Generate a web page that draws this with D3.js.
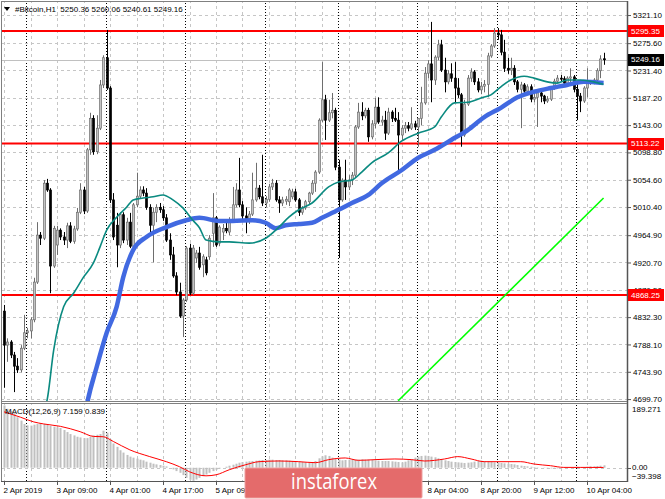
<!DOCTYPE html>
<html><head><meta charset="utf-8">
<script src="https://cdn.jsdelivr.net/npm/d3@7"></script>
<style>
body{margin:0;background:#fff;}
svg{display:block;}
text{font-family:"Liberation Sans",Arial,sans-serif;font-size:8px;fill:#000;}
</style>
</head><body>
<svg id="c" width="665" height="499"></svg>
<script>
// ---------- DATA ----------
const opens = [4842,4787,4792,4771,4753,4747,4782,4807,4810,4828,4889,4965,4960,5049,5038,4915,4949,4973,4962,4957,
4980,4955,4975,5002,5038,5004,5103,5154,5100,5138,5208,5252,5203,5022,4981,4949,4998,4957,4986,4947,
5014,5028,5038,5033,5010,4981,5002,5010,5006,4993,4957,4933,4899,4873,4834,4860,4944,4871,4928,4936,
4917,4925,4930,4968,4993,4952,4970,4976,4970,4989,5014,5038,5014,4996,4989,4999,5022,5041,5027,5017,
5023,5043,5049,5022,5017,5020,5019,5027,5035,5022,5002,5009,5019,5033,5049,5067,5151,5184,5151,5163,
5167,5075,5022,5054,5043,5054,5062,5140,5164,5158,5167,5124,5145,5172,5148,5151,5130,5164,5154,5151,
5127,5138,5142,5138,5145,5140,5154,5179,5227,5242,5216,5253,5273,5232,5213,5226,5219,5203,5192,5127,
5177,5219,5229,5213,5200,5206,5209,5255,5271,5292,5289,5261,5235,5232,5235,5213,5201,5208,5198,5205,
5185,5188,5195,5190,5182,5185,5203,5214,5219,5218,5211,5219,5221,5201,5190,5182,5203,5211,5213,5216,
5231,5250.36];
const highs = [4852,4798,4795,4776,4766,4787,4836,4815,4832,4896,4986,4970,5054,5056,5041,4980,4980,4976,4970,4985,
4986,4980,5009,5049,5043,5106,5163,5159,5159,5216,5256,5297,5206,5033,5001,5002,5002,4993,5001,5017,
5066,5044,5044,5041,5015,5009,5015,5017,5012,4999,4968,4946,4905,4888,4863,4947,4951,4949,4941,4946,
4934,4930,4965,5033,4996,4981,4983,4986,4994,5043,5049,5090,5020,5010,5004,5066,5082,5046,5095,5028,
5048,5056,5054,5028,5027,5028,5041,5040,5040,5025,5012,5022,5035,5054,5070,5154,5245,5192,5184,5195,
5171,5087,5057,5087,5062,5067,5143,5179,5180,5171,5171,5151,5187,5188,5158,5166,5171,5167,5171,5164,
5143,5148,5148,5172,5150,5150,5205,5237,5248,5310,5256,5281,5281,5252,5232,5243,5245,5219,5195,5184,
5224,5235,5232,5219,5213,5216,5260,5274,5300,5300,5297,5281,5252,5252,5240,5216,5213,5211,5209,5209,
5195,5200,5203,5192,5190,5206,5218,5224,5224,5222,5222,5235,5224,5209,5195,5206,5235,5216,5219,5235,
5256,5260.06];
const lows = [4718,4760,4766,4711,4742,4743,4779,4798,4798,4824,4886,4949,4957,5035,4871,4912,4933,4957,4949,4944,
4952,4951,4972,4999,4999,5001,5095,5095,5096,5135,5203,5200,5017,4957,4913,4944,4952,4949,4944,4944,
5010,5025,5028,5006,4968,4921,4986,5001,4988,4954,4925,4896,4868,4831,4800,4857,4868,4868,4920,4909,
4897,4900,4925,4946,4946,4947,4957,4968,4965,4986,5010,5010,4991,4968,4983,4996,5019,5023,5012,5010,
5019,5038,5019,5001,5012,5014,5012,5023,5019,4996,4998,5006,5014,5030,5035,5064,5148,5119,5148,5154,
5070,4928,5019,5022,5038,5046,5059,5137,5151,5154,5116,5120,5138,5145,5142,5119,5127,5148,5148,5066,
5119,5130,5133,5135,5135,5108,5143,5176,5219,5180,5208,5248,5229,5196,5209,5213,5179,5187,5108,5124,
5174,5213,5208,5196,5193,5196,5188,5252,5268,5281,5256,5229,5226,5224,5208,5196,5138,5195,5193,5180,
5180,5140,5180,5177,5179,5182,5200,5211,5213,5208,5209,5209,5196,5151,5164,5179,5188,5208,5209,5213,
5219,5240.61];
const closes = [4787,4792,4771,4753,4747,4782,4807,4810,4828,4889,4965,4960,5049,5038,4915,4976,4973,4962,4957,4980,
4955,4975,5002,5038,5004,5103,5154,5100,5138,5208,5252,5203,5022,4962,4949,4998,4957,4986,4947,5014,
5028,5038,5033,5010,4981,5002,5010,5006,4993,4957,4933,4899,4873,4834,4860,4944,4871,4944,4936,4913,
4930,4904,4960,4993,4949,4978,4976,4972,4989,5014,5038,5014,4996,4989,4999,5022,5041,5027,5017,5023,
5043,5049,5022,5017,5022,5023,5038,5035,5022,5002,5009,5019,5033,5049,5067,5151,5184,5151,5163,5167,
5075,5022,5054,5043,5054,5062,5140,5164,5158,5167,5124,5145,5172,5148,5151,5130,5164,5154,5151,5127,
5138,5142,5138,5145,5140,5154,5179,5227,5242,5216,5253,5273,5232,5213,5226,5219,5203,5192,5127,5177,
5219,5229,5213,5200,5206,5209,5255,5271,5292,5289,5261,5235,5232,5235,5213,5201,5208,5198,5205,5185,
5188,5195,5190,5182,5185,5203,5214,5219,5218,5211,5219,5221,5201,5190,5182,5203,5211,5213,5216,5231,
5250,5249.16];

// moving averages: [bar index, price]
const maFast = [[12,4682],[13,4698],[15,4779],[18,4849],[21,4871],[24,4897],[27,4920],[29,4946],[31,4973],[34,4994],
[37,5010],[39,5022],[42,5025],[45,5027],[48,5030],[51,5022],[54,5009],[57,4989],[59,4977],[61,4957],[65,4954],
[68,4954],[74,4952],[79,4960],[83,4978],[86,4994],[89,5006],[93,5017],[98,5043],[101,5051],[105,5054],[108,5067],
[111,5082],[116,5098],[120,5117],[125,5130],[130,5140],[132,5156],[136,5179],[140,5180],[144,5187],[147,5192],
[150,5205],[153,5216],[157,5222],[160,5219],[164,5213],[167,5211],[170,5216],[174,5216],[178,5213],[181,5209]];
const maSlow = [[24,4660],[25,4690],[28,4752],[31,4807],[34,4849],[36,4897],[39,4941],[43,4962],[49,4978],[55,4989],
[59,4993],[65,4988],[69,4988],[75,4989],[79,4985],[82,4976],[85,4981],[89,4983],[93,4985],[96,4993],[101,5006],
[105,5017],[110,5030],[114,5049],[120,5070],[125,5090],[130,5103],[135,5119],[140,5135],[145,5156],[150,5171],
[155,5188],[160,5197],[165,5203],[170,5208],[175,5213],[181,5211]];
const trendLine = [[119,4697],[181,5025]];
const levels = [5295.35, 5113.22, 4868.25];
const lastPrice = 5249.16;
const priceTicks = [5321.10,5275.60,5231.40,5187.20,5143.00,5098.80,5054.60,5010.40,4964.90,4920.70,4876.50,4832.30,4788.10,4743.90,4699.70];

const macdMain = [185,175,168,162,150,140,130,126,125,128,130,131,130,128,124,122,120,118,112,106,
100,96,92,90,88,88,92,96,98,100,110,104,85,72,62,52,45,38,33,30,
27,24,22,18,15,12,10,8,6,4,0,-5,-10,-15,-22,-30,-36,-39,-35,-30,
-25,-20,-15,-10,-6,-3,0,3,6,9,12,15,17,18,19,20,21,22,23,23,
24,24,23,23,22,22,21,20,19,18,17,16,15,16,20,28,34,37,35,30,
26,24,22,23,24,25,24,24,25,24,24,23,22,21,20,20,20,19,18,17,
16,18,22,26,30,33,35,36,35,33,31,28,25,22,20,18,17,16,15,14,
15,16,18,20,21,20,19,18,16,15,14,13,12,11,10,8,6,5,4,3,
2,1,0,-1,-2,-2,-3,-2,-1,0,1,1,2,3,2,2,3,4,4,5,
6,7.159];
const macdSignal = [[0,166],[5,150],[9,136],[12,130],[17,123],[23,107],[27,93],[30,92],[33,78],[38,53],[44,33],
[49,18],[53,3],[56,-12],[61,-24],[64,-21],[68,-6],[73,9],[77,18],[83,20],[89,18],[94,15],[98,24],[103,29],
[107,22],[112,24],[118,26],[123,24],[127,20],[133,26],[137,33],[141,26],[145,18],[156,18],[160,11],[165,6],
[169,1],[174,1],[181,0.839]];
const macdScale = [-39.398, 189.271];

const timeBars = [0,16,32,48,64,128,144,160,176];
const timeLabels = ["2 Apr 2019","3 Apr 09:00","4 Apr 01:00","4 Apr 17:00","5 Apr 09:00","8 Apr 04:00","8 Apr 20:00","9 Apr 12:00","10 Apr 04:00"];
const daySeparators = [7,31,55,79,101,125,149,173];

const titleText = "#Bitcoin,H1  5250.36 5260.06 5240.61 5249.16";
const macdText = "MACD(12,26,9) 7.159 0.839";

// ---------- LAYOUT ----------
const svg = d3.select("#c");
const plotL = 1, plotR = 627, mainT = 1, mainB = 401, macdT = 404, macdB = 481;
const nBars = closes.length;
const x = d3.scaleLinear().domain([0, nBars-1]).range([4, 4 + (nBars-1)*3.3125]);
const y = d3.scaleLinear().domain([4696.6, 5342.2]).range([mainB, mainT+1]);
const ym = d3.scaleLinear().domain(macdScale).range([macdB, macdT]);

const defs = svg.append("defs");
defs.append("clipPath").attr("id","cm").append("rect").attr("x",plotL+1).attr("y",mainT+1).attr("width",plotR-plotL-1).attr("height",mainB-mainT-1);
defs.append("clipPath").attr("id","cd").append("rect").attr("x",plotL+1).attr("y",macdT).attr("width",plotR-plotL-1).attr("height",macdB-macdT);

const gMain = svg.append("g").attr("clip-path","url(#cm)");
const gMacd = svg.append("g").attr("clip-path","url(#cd)");
const px = v => Math.round(v) + 0.5;

// horizontal grid (main)
gMain.selectAll("line.hg").data(priceTicks).join("line")
  .attr("x1",plotL).attr("x2",plotR).attr("y1",d=>px(y(d))).attr("y2",d=>px(y(d)))
  .attr("stroke","#c6c6c6").attr("stroke-dasharray","3,3");
// vertical grid every 8 bars
const vgrid = d3.range(0, nBars, 8);
[gMain, gMacd].forEach(g => {
  g.selectAll("line.vg").data(vgrid).join("line")
    .attr("x1",d=>px(x(d))).attr("x2",d=>px(x(d))).attr("y1",0).attr("y2",499)
    .attr("stroke","#c6c6c6").attr("stroke-dasharray","3,3");
  g.selectAll("line.ds").data(daySeparators).join("line")
    .attr("x1",d=>px(x(d)-1)).attr("x2",d=>px(x(d)-1)).attr("y1",0).attr("y2",499)
    .attr("stroke","#000").attr("stroke-dasharray","1,2");
});
// MACD zero line
gMacd.append("line").attr("x1",plotL).attr("x2",plotR).attr("y1",px(ym(0))).attr("y2",px(ym(0)))
  .attr("stroke","#c6c6c6").attr("stroke-dasharray","3,3");

// current price line
gMain.append("line").attr("x1",plotL).attr("x2",plotR).attr("y1",px(y(lastPrice))).attr("y2",px(y(lastPrice)))
  .attr("stroke","#c0c0c0");

// level lines
gMain.selectAll("line.lv").data(levels).join("line")
  .attr("x1",plotL).attr("x2",plotR).attr("y1",d=>y(d)).attr("y2",d=>y(d))
  .attr("stroke","#ff0000").attr("stroke-width",2);

// candles
const bars = d3.range(nBars).map(i => ({i, o:opens[i], h:highs[i], l:lows[i], c:closes[i]}));
const cg = gMain.append("g");
cg.selectAll("line.w").data(bars).join("line")
  .attr("x1",d=>px(x(d.i))).attr("x2",d=>px(x(d.i)))
  .attr("y1",d=>y(Math.max(d.h,d.o,d.c))).attr("y2",d=>y(Math.min(d.l,d.o,d.c)))
  .attr("stroke",d=>d.c>=d.o?"#6e6e6e":"#000").attr("stroke-width",1);
cg.selectAll("rect.b").data(bars).join("rect")
  .attr("x",d=>Math.round(x(d.i))-0.5).attr("width",2)
  .attr("y",d=>y(Math.max(d.o,d.c))).attr("height",d=>Math.max(1,Math.abs(y(d.o)-y(d.c))))
  .attr("fill",d=>d.c>=d.o?"#c4c4c4":"#000")
  .attr("stroke",d=>d.c>=d.o?"#6e6e6e":"#000").attr("stroke-width",0.7);

// moving averages
const line = d3.line().curve(d3.curveMonotoneX).x(d=>x(d[0])).y(d=>y(d[1]));
gMain.append("path").attr("d",line(maSlow)).attr("fill","none").attr("stroke","#4169e1").attr("stroke-width",4.5).attr("stroke-linejoin","round");
gMain.append("path").attr("d",line(maFast)).attr("fill","none").attr("stroke","#0a8a80").attr("stroke-width",1.6).attr("stroke-linejoin","round");
// trendline
gMain.append("path").attr("d",d3.line().x(d=>x(d[0])).y(d=>y(d[1]))(trendLine)).attr("fill","none").attr("stroke","#00ff00").attr("stroke-width",1.6);

// MACD histogram & signal
gMacd.selectAll("rect.h").data(macdMain.map((v,i)=>({i,v}))).join("rect")
  .attr("x",d=>Math.round(x(d.i))-0.5).attr("width",2)
  .attr("y",d=>Math.min(ym(0),ym(d.v))).attr("height",d=>Math.abs(ym(0)-ym(d.v)))
  .attr("fill","#c0c0c0");
gMacd.append("path").attr("d",d3.line().curve(d3.curveMonotoneX).x(d=>x(d[0])).y(d=>ym(d[1]))(macdSignal))
  .attr("fill","none").attr("stroke","#ff0000").attr("stroke-width",1);

// frames
svg.append("line").attr("x1",1.5).attr("x2",1.5).attr("y1",1).attr("y2",macdB).attr("stroke","#808080");
svg.append("line").attr("x1",1).attr("x2",plotR).attr("y1",1.5).attr("y2",1.5).attr("stroke","#808080");
svg.append("line").attr("x1",plotR+0.5).attr("x2",plotR+0.5).attr("y1",1).attr("y2",macdB+1).attr("stroke","#555").attr("stroke-width",1.5);
svg.append("line").attr("x1",1).attr("x2",plotR).attr("y1",mainB+0.5).attr("y2",mainB+0.5).attr("stroke","#808080");
svg.append("line").attr("x1",1).attr("x2",plotR).attr("y1",macdT-0.5).attr("y2",macdT-0.5).attr("stroke","#808080");
svg.append("line").attr("x1",1).attr("x2",plotR).attr("y1",macdB+0.5).attr("y2",macdB+0.5).attr("stroke","#555");

// price axis
const ay = svg.append("g").attr("transform",`translate(${plotR+1},0)`)
  .call(d3.axisRight(y).tickValues(priceTicks).tickFormat(d3.format(".2f")).tickSize(3).tickPadding(2));
ay.select(".domain").remove();
ay.selectAll("line").attr("stroke","#555");
ay.selectAll("text").style("font-size","8px").style("font-family","Liberation Sans, Arial, sans-serif");

// macd axis labels
const am = svg.append("g").attr("transform",`translate(${plotR+1},0)`);
const macdTicks = [macdScale[1], 0, macdScale[0]];
const macdFmt = [d3.format(".3f"), d3.format(".2f"), d3.format(".3f")];
const macdDy = [5, 0, -5];
am.selectAll("text").data(macdTicks).join("text")
  .attr("x",4).attr("y",(d,i)=>ym(d)+macdDy[i]).attr("dy","0.32em")
  .text((d,i)=>macdFmt[i](d));
am.append("line").attr("x1",0).attr("x2",3).attr("y1",px(ym(0))).attr("y2",px(ym(0))).attr("stroke","#555");

// level labels
const lvG = svg.append("g");
lvG.selectAll("rect").data(levels).join("rect")
  .attr("x",plotR+1).attr("width",36).attr("y",d=>Math.round(y(d))-6).attr("height",12).attr("fill","#ff0000");
lvG.selectAll("text").data(levels).join("text")
  .attr("x",plotR+4).attr("y",d=>y(d)).attr("dy","0.34em").style("fill","#fff")
  .text(d=>d3.format(".2f")(d));
svg.append("rect").attr("x",plotR+1).attr("width",36).attr("y",Math.round(y(lastPrice))-6).attr("height",12).attr("fill","#000");
svg.append("text").attr("x",plotR+4).attr("y",y(lastPrice)).attr("dy","0.34em").style("fill","#fff").text(d3.format(".2f")(lastPrice));

// time axis
const ax = svg.append("g").attr("transform",`translate(0,${macdB+1})`)
  .call(d3.axisBottom(x).tickValues(timeBars).tickFormat((d,i)=>timeLabels[i]).tickSize(3).tickPadding(2));
ax.select(".domain").remove();
ax.selectAll("line").attr("stroke","#555");
ax.selectAll("text").attr("text-anchor","start").attr("dx","-1").style("font-size","8px").style("font-family","Liberation Sans, Arial, sans-serif");

// titles
svg.append("path").attr("d","M4,7 L10,7 L7,11 Z").attr("fill","#000");
svg.append("text").attr("x",15).attr("y",12).style("white-space","pre").text(titleText);
svg.append("text").attr("x",5).attr("y",414).text(macdText);

// watermark
svg.append("rect").attr("x",245).attr("y",468).attr("width",177).attr("height",30).attr("rx",1)
  .attr("fill","#e46b6b").attr("stroke","#eea0a0").attr("stroke-width",1);
svg.append("text").attr("x",334).attr("y",489).attr("text-anchor","middle")
  .attr("textLength",86).attr("lengthAdjust","spacingAndGlyphs")
  .style("font-family","Open Sans, sans-serif").style("font-size","21px").style("fill","#fff").text("instaforex");
</script>
</body></html>
